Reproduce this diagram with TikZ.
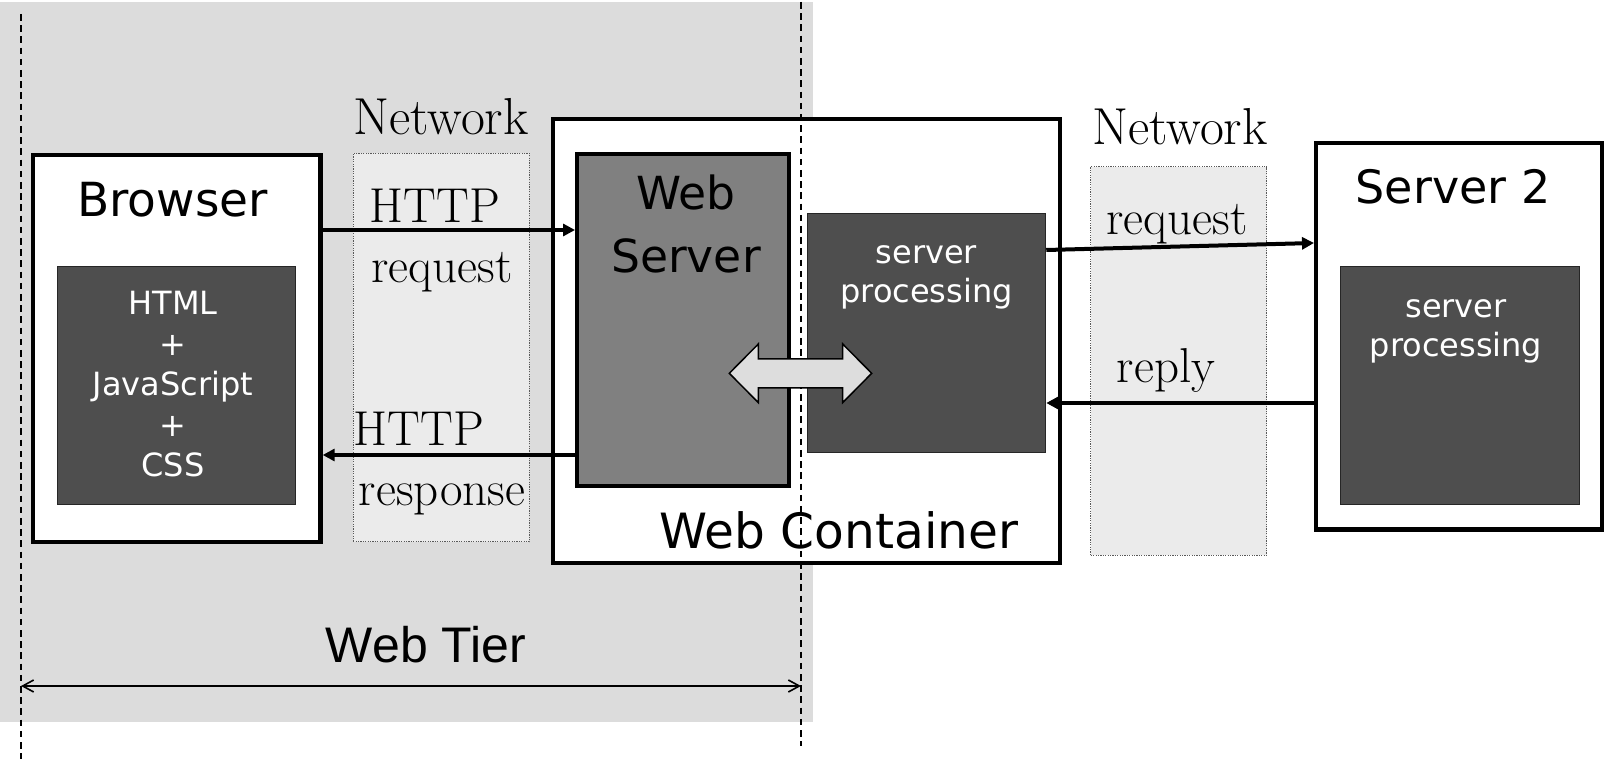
\documentclass[tikz,border=0pt]{standalone}
\usepackage{fontspec}
\newfontfamily\boxfont{DejaVu Sans}
\newfontfamily\tierfont{Liberation Sans}
\usetikzlibrary{arrows.meta}
\definecolor{tiergray}{RGB}{220,220,220}
\definecolor{netgray}{RGB}{235,235,235}
\definecolor{srvgray}{RGB}{128,128,128}
\definecolor{procgray}{RGB}{78,78,78}
\definecolor{fatgray}{RGB}{221,221,221}
\tikzset{
  tierbox/.style={draw, line width=2.2pt, fill=white, inner sep=0pt},
  procbox/.style={draw=black!85, line width=0.5pt, fill=procgray,
    minimum width=119.25pt, minimum height=119pt, inner sep=0pt},
  netbox/.style={draw=black!65, line width=0.5pt, dash pattern=on 0.6pt off 0.6pt,
    fill=netgray, minimum width=88.1pt, minimum height=194.2pt, inner sep=0pt},
  boxtitle/.style={font=\boxfont\fontsize{23.5}{28}\selectfont, inner sep=0pt, anchor=base},
  proclabel/.style={text=white, align=center, inner sep=0pt,
    font=\boxfont\fontsize{16}{19.5}\selectfont},
  nettext/.style={font=\fontsize{24.5}{29}\selectfont, inner sep=0pt, anchor=base},
  msg/.style={line width=2pt, -{Triangle[length=6pt,width=6pt]}},
  tierline/.style={line width=1pt, dash pattern=on 3.3pt off 2.3pt},
  tierarrow/.style={line width=0.8pt, {Straight Barb[length=5.5pt,width=6pt]}-{Straight Barb[length=5.5pt,width=6pt]}}
}
\begin{document}
\begin{tikzpicture}[x=0.5pt, y=-0.5pt]
\useasboundingbox (0,0) rectangle (1607,759);
 % web tier background:
\fill[tiergray] (0,2) rectangle (813,722);
 % networks:
\node[netbox] (net1) at (441.3,347.5) {};
\node[netbox] (net2) at (1178.8,360.85) {};
\node[nettext, font=\fontsize{26}{31}\selectfont] (net1label) at (441,135) {Network};
\node[nettext, font=\fontsize{26}{31}\selectfont] (net2label) at (1180,145) {Network};
 % browser:
\node[tierbox, minimum width=143.8pt, minimum height=193.65pt] (browser) at (176.7,348.55) {};
\node[boxtitle] (browsertitle) at (172.5,216.7) {Browser};
\node[procbox] (client) at (176.65,385.85) {};
\node[proclabel, font=\boxfont\fontsize{16}{20.25}\selectfont] (clienttext) at (173,384.4)
  {HTML\\+\\JavaScript\\+\\CSS};
 % web container:
\node[tierbox, minimum width=253.3pt, minimum height=221.8pt] (container) at (806.5,341) {};
\node[boxtitle, font=\boxfont\fontsize{24.3}{29}\selectfont] (containertitle) at (839,548) {Web Container};
 % web tier borders:
\coordinate (tierL) at (21,686);
\coordinate (tierR) at (801,686);
\draw[tierline] (21,14) -- (21,759);
\draw[tierline] (801,2) -- (801,746);
\draw[tierarrow] (tierL) -- (tierR);
\node[font=\tierfont\fontsize{25}{30}\selectfont, inner sep=0pt, anchor=base] (tiertitle) at (426,662) {Web Tier};
 % web server:
\node[tierbox, fill=srvgray, line width=2.15pt, minimum width=105.8pt, minimum height=165.8pt] (webserver) at (683,320) {};
\node[boxtitle, anchor=center, align=center, font=\boxfont\fontsize{22.8}{31.25}\selectfont] (webservertitle) at (686,224) {Web\\Server};
 % server processing:
\node[procbox] (proc) at (926.5,333) {};
\node[proclabel] (proctext) at (926.5,277.5) {server\\processing};
 % server 2:
\node[tierbox, minimum width=142.8pt, minimum height=193.3pt] (server2) at (1459,336.2) {};
\node[boxtitle, font=\boxfont\fontsize{23}{28}\selectfont] (server2title) at (1453,203.7) {Server 2};
\node[procbox] (proc2) at (1460,385.85) {};
\node[proclabel] (proc2text) at (1456,331) {server\\processing};
 % messages:
\draw[msg] (browser.east |- 0,230) -- (webserver.west |- 0,230);
\draw[msg] (webserver.west |- 0,455) -- (browser.east |- 0,455);
\draw[msg] (proc.east |- 0,250) -- (server2.west |- 0,243);
\draw[msg] (server2.west |- 0,403) -- (proc.east |- 0,403);
\node[nettext] (httpreq) at (435,223) {HTTP};
\node[nettext] (req) at (442,283) {request};
\node[nettext] (httpresp) at (419,445) {HTTP};
\node[nettext] (resp) at (442,505) {response};
\node[nettext] (req2) at (1177,235) {request};
\node[nettext] (reply) at (1166,383) {reply};
 % web server <-> server processing:
\draw[line width=0.75pt, fill=fatgray] (729.3,373.3) -- (758.3,344) -- (758.3,358.8)
  -- (842.7,358.8) -- (842.7,344) -- (871.7,373.3) -- (842.7,402.6) -- (842.7,387.8)
  -- (758.3,387.8) -- (758.3,402.6) -- cycle;
\end{tikzpicture}
\end{document}
